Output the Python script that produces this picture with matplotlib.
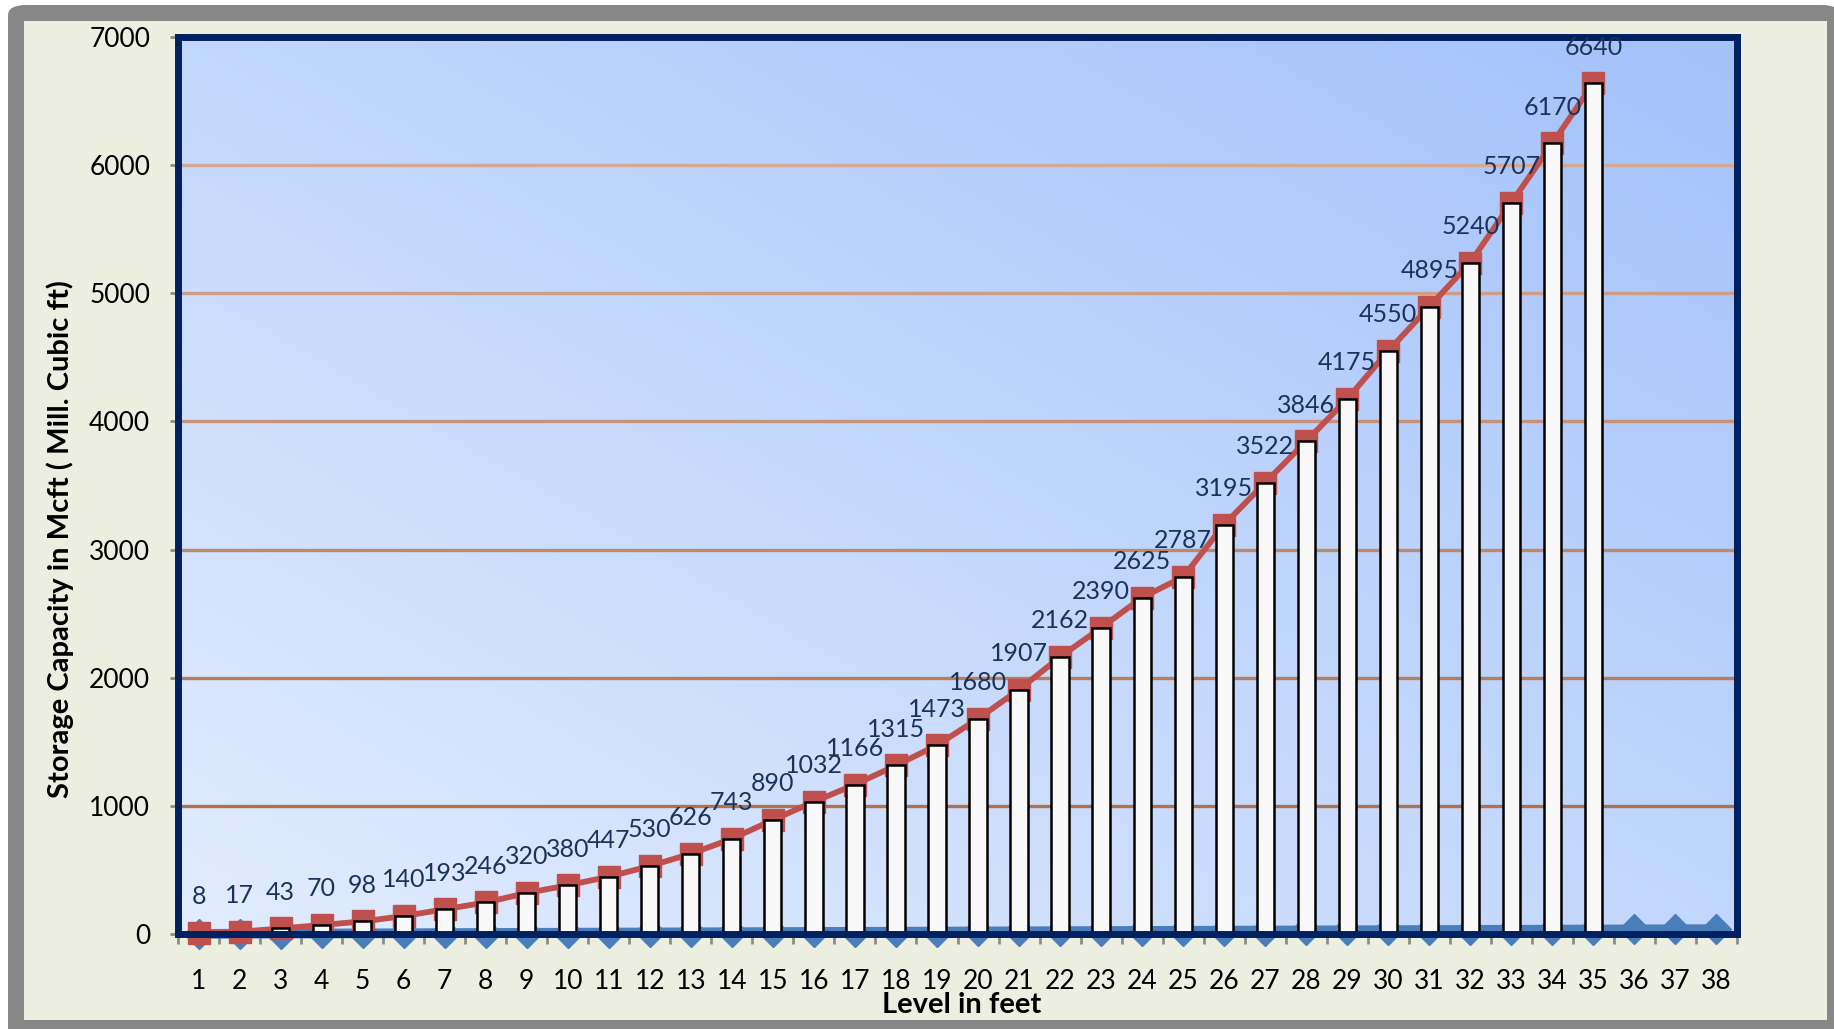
import numpy as np
import matplotlib.pyplot as plt
from matplotlib.patches import FancyBboxPatch

plt.rcParams['font.family'] = ['Lato', 'DejaVu Sans']

levels = list(range(1, 39))
capacity = [8, 17, 43, 70, 98, 140, 193, 246, 320, 380, 447, 530, 626, 743, 890,
            1032, 1166, 1315, 1473, 1680, 1907, 2162, 2390, 2625, 2787, 3195, 3522,
            3846, 4175, 4550, 4895, 5240, 5707, 6170, 6640]
level_series = levels  # blue series along the bottom
cap_levels = levels[:len(capacity)]

W, H = 1834, 1029
fig = plt.figure(figsize=(W / 100, H / 100), dpi=100)
fig.patch.set_facecolor('white')

# outer gray frame and beige panel
def fx(px):
    return px / W

def fy(py):
    return 1 - py / H

fig.patches.append(FancyBboxPatch((fx(8), fy(1040)), fx(1840) - fx(8), fy(5) - fy(1040),
                                  boxstyle='round,pad=0,rounding_size=0.01',
                                  transform=fig.transFigure, facecolor='#878787',
                                  edgecolor='none', zorder=-2))
fig.patches.append(FancyBboxPatch((fx(24), fy(1020)), fx(1827) - fx(24), fy(21) - fy(1020),
                                  boxstyle='square,pad=0', transform=fig.transFigure,
                                  facecolor='#ECEFE0', edgecolor='none', zorder=-1))

ax = fig.add_axes([fx(178), fy(934), fx(1737) - fx(178), fy(37) - fy(934)])
ax.set_zorder(3)
ax.set_xlim(0.5, 38.5)
ax.set_ylim(0, 7000)

# gradient background
gx, gy = np.meshgrid(np.linspace(0, 1, 200), np.linspace(0, 1, 200))
t = 0.5 * gx + 0.5 * gy
c0 = np.array([226, 236, 254]) / 255
c1 = np.array([163, 194, 250]) / 255
img = c0[None, None, :] * (1 - t[..., None]) + c1[None, None, :] * t[..., None]
ax.imshow(img, extent=[0.5, 38.5, 0, 7000], origin='lower', aspect='auto', zorder=0)

# gridlines, darker toward the bottom
g_lo = np.array([176, 114, 78]) / 255
g_hi = np.array([214, 168, 146]) / 255
for v in range(1000, 7000, 1000):
    f = (v - 1000) / 5000
    ax.axhline(v, color=g_lo * (1 - f) + g_hi * f, lw=2.4, zorder=1)

# blue series along bottom
ax.plot(levels, level_series, color='#4A7EBB', lw=7, marker='D', markersize=15,
        zorder=2, clip_on=False)

# red line with squares
ax.plot(cap_levels, capacity, color='#C0504D', lw=4.2, marker='s', markersize=16,
        zorder=3, clip_on=False)

# bars
ax.bar(cap_levels, capacity, width=0.42, color='#F8F8F8', edgecolor='black',
       linewidth=1.8, zorder=4)

# data labels
for x, v in zip(cap_levels, capacity):
    ax.annotate(str(v), (x, v), xytext=(0, 26), textcoords='offset points',
                ha='center', va='center', fontsize=18, color='#1B3358', zorder=6)

# spines
for s in ax.spines.values():
    s.set_color('#002060')
    s.set_linewidth(5)
    s.set_zorder(5)

ax.set_xticks(levels)
ax.set_xticklabels([str(l) for l in levels], fontsize=19)
ax.set_xticks(np.arange(0.5, 39, 1), minor=True)
ax.tick_params(axis='x', which='major', length=0, pad=25)
ax.tick_params(axis='x', which='minor', length=7, width=2, color='#8C8C8C')
ax.set_yticks(range(0, 7001, 1000))
ax.set_yticklabels([str(v) for v in range(0, 7001, 1000)], fontsize=19)
ax.tick_params(axis='y', length=6, width=2, color='#8C8C8C', pad=14)

fig.text(fx(60), fy(539), 'Storage Capacity in Mcft ( Mill. Cubic ft)', rotation=90,
         ha='center', va='center', fontsize=21, fontweight='bold')
fig.text(fx(962), fy(1005), 'Level in feet', ha='center', va='center',
         fontsize=21, fontweight='bold')

fig.savefig('out.png', dpi=100)
